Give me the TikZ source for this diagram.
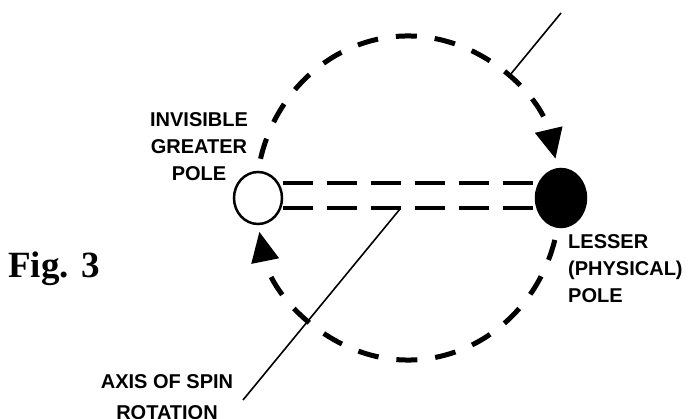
\documentclass[tikz,border=0pt]{standalone}
\usepackage{fontspec}
\setmainfont{Liberation Serif}
\newfontfamily\capsfont{Liberation Sans}
\usetikzlibrary{shapes.geometric,arrows.meta}

\begin{document}
\begin{tikzpicture}[x=1pt, y=-1pt,
    orbit/.style={line width=5pt, dash pattern=on 21pt off 18pt, -{Triangle[length=30pt,width=27pt]}},
    bar/.style={line width=4pt, dash pattern=on 30pt off 14pt},
    pole/.style={ellipse, draw, line width=2.5pt, inner sep=0pt},
    axis/.style={line width=1.6pt},
    caption/.style={font=\capsfont\bfseries\fontsize{20}{27}\selectfont, inner sep=0pt}]
    \useasboundingbox (0,0) rectangle (688,419);

    % Polos: maior (invisivel) e menor (fisico)
    \node[pole, fill=white, minimum width=48pt, minimum height=52pt] (greater) at (258,198) {};
    \node[pole, fill=black, minimum width=50pt, minimum height=58pt] (lesser) at (561,198) {};

    % Barras tracejadas entre os polos
    \draw[bar] ([yshift=15pt]greater.east) -- ([yshift=15pt]lesser.west);
    \draw[bar] ([yshift=-10pt]greater.east) -- ([yshift=-10pt]lesser.west);

    % Orbita com as setas
    \coordinate (orbitc) at (408,198);
    \draw[orbit] ([shift={(194:152 and 162)}]orbitc) arc[start angle=194, end angle=346, x radius=152, y radius=162];
    \draw[orbit] ([shift={(15:152 and 162)}]orbitc) arc[start angle=15, end angle=168, x radius=152, y radius=162];

    % Eixo de rotacao
    \coordinate (axtop) at (561,13);
    \coordinate (axcross) at (510,75);
    \coordinate (axhub) at (400,209);
    \coordinate (axfoot) at (243,400);
    \draw[axis] (axtop) -- (axcross);
    \draw[axis] (axhub) -- (axfoot);

    % Textos
    \node[caption, align=center] (greaterlabel) at (199,147) {INVISIBLE\\GREATER\\POLE};
    \node[caption, align=left, anchor=north west] (lesserlabel) at (568,234) {LESSER\\(PHYSICAL)\\POLE};
    \node[caption, font=\capsfont\bfseries\fontsize{20}{31}\selectfont, align=center, anchor=north] (axislabel) at (167,374) {AXIS OF SPIN\\ROTATION};
    \node[font=\bfseries\fontsize{37}{37}\selectfont, anchor=base west, inner sep=0pt] (figlabel) at (8,278) {Fig. 3};
\end{tikzpicture}
\end{document}
